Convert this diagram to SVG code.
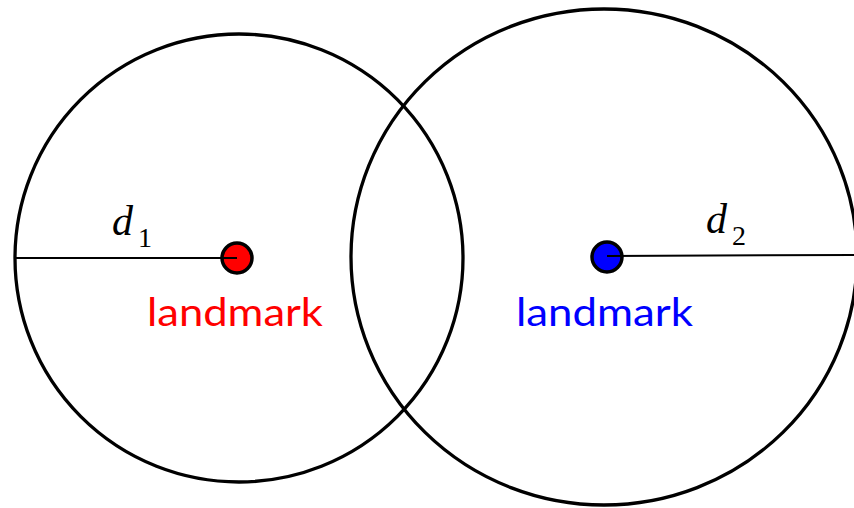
<svg xmlns="http://www.w3.org/2000/svg" width="854" height="508" viewBox="0 0 854 508">
<style>
.ring{fill:none;stroke:#000;stroke-width:3.3}
.dot{stroke:#000;stroke-width:3.5}
.rad{stroke:#000;stroke-width:2;fill:none}
.lbl{font-family:"Lato","Open Sans","Liberation Sans",sans-serif;font-size:39px}
.math{font-family:"Liberation Serif","Times New Roman",serif;font-style:italic;font-size:42px}
.sub{font-family:"Liberation Serif","Times New Roman",serif;font-size:28px}
</style>
<rect width="854" height="508" fill="#fff"/>
<g id="circle1">
<ellipse class="ring" cx="239" cy="258" rx="224" ry="224"/>
</g>
<g id="circle2">
<ellipse class="ring" cx="604" cy="257" rx="253" ry="248"/>
</g>
<g id="landmark1">
<circle class="dot" cx="237" cy="258" r="15" fill="#f00"/>
<text class="lbl" x="147" y="326" fill="#f00" textLength="176" lengthAdjust="spacingAndGlyphs">landmark</text>
</g>
<g id="landmark2">
<circle class="dot" cx="607" cy="257" r="15" fill="#00f"/>
<text class="lbl" x="516" y="326" fill="#00f" textLength="177" lengthAdjust="spacingAndGlyphs">landmark</text>
</g>
<g id="connectors">
<line class="rad" x1="15" y1="258" x2="237" y2="258"/>
<line class="rad" x1="607" y1="256" x2="854" y2="255"/>
</g>
<g id="labels">
<text class="math" x="112" y="235">d</text><text class="sub" x="138" y="247">1</text>
<text class="math" x="706" y="233">d</text><text class="sub" x="732" y="245">2</text>
</g>
</svg>
